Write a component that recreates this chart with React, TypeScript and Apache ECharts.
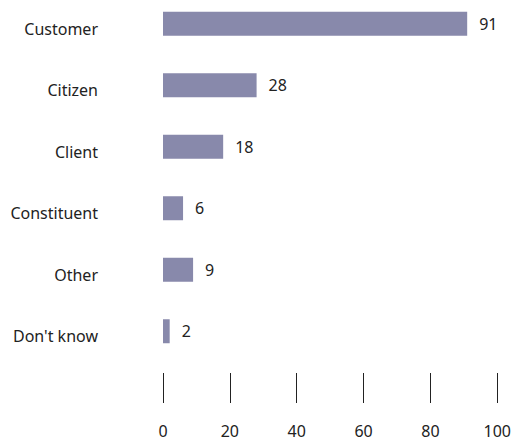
import React, { useEffect, useRef } from "react";
import * as echarts from "echarts";

const categories = ["Customer", "Citizen", "Client", "Constituent", "Other", "Don't know"];
const values = [91, 28, 18, 6, 9, 2];
const xTicks = [0, 20, 40, 60, 80, 100];

export default function App() {
  const ref = useRef<HTMLDivElement>(null);
  useEffect(() => {
    if (!ref.current) return;
    const chart = echarts.init(ref.current, null, { renderer: "svg" });
    const font = "'Noto Sans', sans-serif";
    chart.setOption({
      animation: false,
      grid: { left: 163, right: 16, top: 13, bottom: 81 },
      xAxis: {
        type: "value",
        min: xTicks[0],
        max: xTicks[xTicks.length - 1],
        interval: 20,
        position: "bottom",
        offset: 11,
        axisLine: { show: false },
        axisTick: { show: true, length: 30, lineStyle: { color: "#222", width: 1 } },
        splitLine: { show: false },
        axisLabel: {
          margin: 50,
          color: "#222",
          fontSize: 16,
          lineHeight: 16,
          fontFamily: font,
        },
      },
      yAxis: {
        type: "category",
        data: categories,
        inverse: true,
        axisLine: { show: false },
        axisTick: { show: false },
        axisLabel: {
          margin: 65,
          color: "#222",
          fontSize: 16,
          fontFamily: font,
          align: "right",
          verticalAlign: "top",
          lineHeight: 10,
        },
      },
      series: [
        {
          type: "bar",
          data: values,
          barWidth: 24,
          itemStyle: { color: "#8889AB" },
          label: {
            show: true,
            position: "right",
            distance: 12,
            color: "#222",
            fontSize: 16,
            fontFamily: font,
          },
        },
      ],
    });
    return () => chart.dispose();
  }, []);
  return <div ref={ref} style={{ width: 514, height: 463, position: "absolute", left: 0, top: -20 }} />;
}
